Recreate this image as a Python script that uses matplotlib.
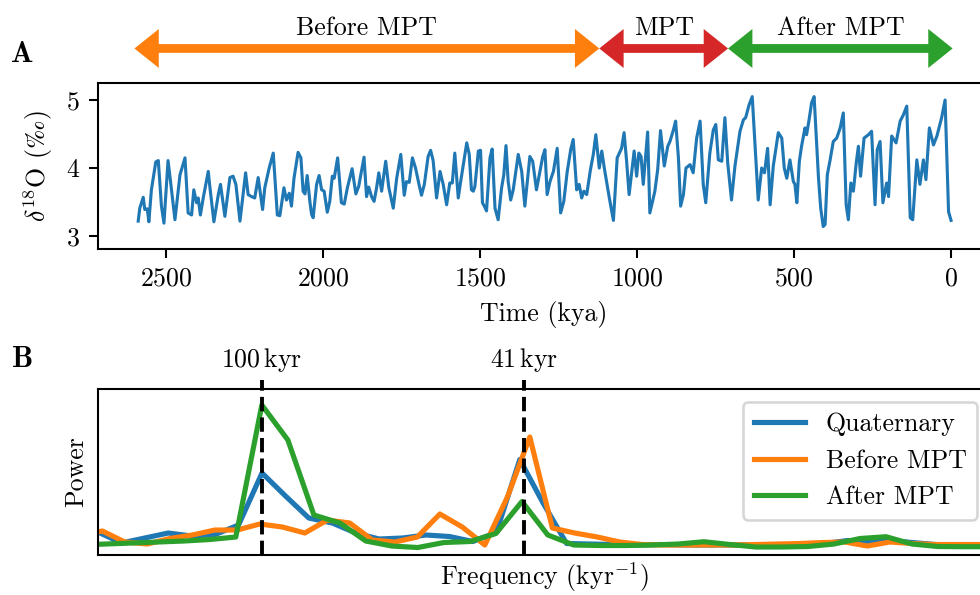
import matplotlib
matplotlib.use('Agg')
import matplotlib.pyplot as plt

plt.rcParams['font.family'] = ['cmr10', 'DejaVu Serif']
plt.rcParams['mathtext.fontset'] = 'cm'
plt.rcParams['axes.formatter.use_mathtext'] = True
plt.rcParams['font.size'] = 10

# benthic d18O stack, kya / permil
age = [2588, 2583, 2572, 2567, 2559, 2554, 2546, 2532, 2524, 2514, 2506, 2493, 2485, 2471, 2455, 2439,
       2429, 2418, 2411, 2402, 2397, 2390, 2381, 2365, 2360, 2347, 2333, 2326, 2312, 2296, 2286, 2277,
       2264, 2246, 2238, 2227, 2217, 2206, 2192, 2185, 2171, 2158, 2145, 2137, 2124, 2116, 2107, 2100, 2092,
       2079, 2070, 2063, 2057, 2050, 2041, 2036, 2031, 2020, 2012, 2004, 1996, 1986, 1978, 1970, 1964,
       1953, 1941, 1932, 1922, 1907, 1895, 1886, 1869, 1861, 1854, 1845, 1837, 1829, 1822, 1813, 1800,
       1790, 1776, 1765, 1752, 1741, 1734, 1725, 1715, 1705, 1694, 1686, 1677, 1665, 1657, 1649, 1638,
       1627, 1617, 1606, 1596, 1588, 1580, 1569, 1562,
       1542, 1534, 1527, 1521, 1516, 1505, 1498, 1492, 1486, 1479, 1468, 1461, 1452, 1442, 1431, 1424,
       1417, 1410, 1402, 1394, 1378, 1367, 1357, 1341, 1332, 1320, 1309, 1300, 1293, 1286, 1277, 1266,
       1254, 1243, 1233, 1222, 1211, 1203, 1192, 1184, 1176, 1169, 1160, 1148, 1139, 1131, 1120, 1112,
       1104, 1088, 1075, 1063, 1049, 1041, 1033,
       1025, 1017, 1009, 1001, 994, 987, 980, 966, 959, 943, 934, 925, 913, 902, 895, 884, 877, 868, 861,
       852, 844, 831, 821, 810, 799, 789, 781, 768, 757, 749, 741, 730, 720, 711, 699, 688, 672, 661, 654,
       643, 633, 614, 603, 594, 584, 576, 566, 550, 539, 531, 523, 513, 502,
       497, 491, 483, 476, 465, 460, 452, 444, 436, 422, 415, 407, 401, 394, 385, 375, 364, 353, 343, 334,
       327, 319, 311, 302, 295, 288, 277, 263, 253, 242, 235, 226, 217, 205, 199, 189, 175, 162, 152, 141,
       130, 122, 109, 99, 88, 80, 69, 56, 45, 30, 19, 8, 0]
d18o = [3.22, 3.41, 3.57, 3.39, 3.40, 3.21, 3.68, 4.09, 4.11, 3.44, 3.19, 4.11, 3.80, 3.24, 3.90, 4.15,
        3.34, 3.31, 3.68, 3.49, 3.56, 3.31, 3.56, 3.95, 3.73, 3.21, 3.61, 3.76, 3.29, 3.86, 3.88, 3.76,
        3.22, 3.93, 3.61, 3.58, 3.56, 3.86, 3.39, 3.71, 4.00, 4.22, 3.31, 3.30, 3.71, 3.53, 3.63, 3.44, 3.85,
        4.23, 4.15, 3.66, 3.62, 3.89, 3.49, 3.32, 3.27, 3.76, 3.89, 3.68, 3.66, 3.35, 3.51, 3.88, 3.85,
        4.15, 3.49, 3.47, 3.71, 3.99, 3.62, 3.73, 4.16, 3.58, 3.72, 3.58, 3.51, 3.71, 3.93, 3.66, 4.10,
        3.71, 3.41, 3.85, 4.20, 3.60, 3.80, 3.79, 4.15, 4.00, 3.76, 3.60, 3.76, 4.17, 4.26, 4.11, 3.56,
        3.95, 3.76, 3.46, 3.78, 3.78, 4.22, 3.56, 3.78,
        4.37, 4.20, 3.68, 3.66, 3.73, 4.25, 4.26, 3.49, 3.44, 3.37, 4.15, 4.28, 3.41, 3.24, 3.71, 3.90,
        4.33, 3.80, 3.53, 3.68, 4.20, 3.95, 3.44, 4.17, 4.10, 3.68, 3.95, 4.17, 4.27, 3.61, 3.80, 3.95,
        4.29, 3.34, 3.51, 3.95, 4.27, 4.42, 3.68, 3.76, 3.56, 3.66, 3.61, 3.98, 4.20, 4.49, 4.00, 4.25,
        4.00, 3.56, 3.23, 4.15, 4.29, 4.52, 4.10,
        3.61, 3.93, 4.25, 3.88, 4.22, 4.17, 3.76, 4.53, 3.34, 3.66, 3.98, 4.55, 4.03, 4.32, 4.39, 4.56,
        4.69, 4.15, 3.44, 3.61, 4.00, 4.05, 3.93, 4.44, 4.69, 3.76, 3.49, 4.22, 4.56, 4.64, 4.12, 4.10,
        4.74, 4.07, 3.53, 4.03, 4.54, 4.71, 4.74, 4.93, 5.05, 3.53, 4.00, 3.93, 4.29, 3.46, 4.03, 4.52,
        4.44, 4.00, 3.85, 4.12, 3.80,
        3.76, 3.49, 4.10, 4.32, 4.59, 4.49, 4.71, 4.96, 5.05, 3.85, 3.41, 3.14, 3.17, 3.90, 4.12, 4.39,
        4.44, 4.59, 4.81, 3.46, 3.24, 3.78, 3.66, 4.07, 4.32, 3.88, 4.44, 4.49, 4.54, 3.46, 4.27, 4.39,
        3.49, 3.78, 3.58, 4.47, 4.37, 4.69, 4.78, 4.91, 3.27, 3.24, 4.12, 3.76, 4.12, 3.83, 4.59, 4.34,
        4.47, 4.74, 5.00, 3.36, 3.23]

# periods, kya: (start, end) and labels
periods = [(2600, 1120), (1120, 710), (710, -5)]
period_names = ['Before MPT', 'MPT', 'After MPT']
period_colors = ['C1', 'C3', 'C2']

# power spectra (arbitrary units)
freq_q = [0.00100, 0.00229, 0.00357, 0.00486, 0.00615, 0.00744, 0.00872, 0.01001, 0.01130, 0.01258,
          0.01387, 0.01516, 0.01644, 0.01773, 0.01902, 0.02031, 0.02159, 0.02288, 0.02417, 0.02545,
          0.02674, 0.02803, 0.02931, 0.03060, 0.03189, 0.03318, 0.03446, 0.03575, 0.03704, 0.03832,
          0.03961, 0.04090, 0.04218, 0.04347, 0.04476, 0.04605, 0.04733, 0.04862, 0.04991]
power_q = [0.23, 0.12, 0.17, 0.22, 0.19, 0.205, 0.30, 0.82, 0.59, 0.37, 0.32, 0.22, 0.16, 0.17, 0.20,
           0.185, 0.135, 0.225, 0.955, 0.52, 0.115, 0.11, 0.105, 0.10, 0.105, 0.10, 0.10, 0.10, 0.10,
           0.10, 0.10, 0.115, 0.145, 0.135, 0.14, 0.12, 0.10, 0.10, 0.10]

freq_before = [0.0, 0.00124, 0.00247, 0.00371, 0.00494, 0.00618, 0.00742, 0.00865, 0.00989, 0.01113,
               0.01236, 0.01360, 0.01483, 0.01607, 0.01731, 0.01854, 0.01978, 0.02101, 0.02225, 0.02349,
               0.02472, 0.02596, 0.02719, 0.02843, 0.02967, 0.03090, 0.03214, 0.03338, 0.03461, 0.03585,
               0.03708, 0.03832, 0.03956, 0.04079, 0.04203, 0.04326, 0.04450, 0.04574, 0.04697, 0.04821,
               0.04944, 0.05068]
power_before = [0.20, 0.24, 0.13, 0.11, 0.165, 0.20, 0.25, 0.25, 0.31, 0.28, 0.22, 0.35, 0.32, 0.15,
                0.13, 0.18, 0.41, 0.28, 0.10, 0.58, 1.18, 0.27, 0.22, 0.18, 0.13, 0.105, 0.10, 0.10,
                0.10, 0.10, 0.105, 0.11, 0.115, 0.125, 0.13, 0.09, 0.13, 0.115, 0.105, 0.105, 0.105,
                0.105]

freq_after = [0.0, 0.00143, 0.00286, 0.00429, 0.00571, 0.00714, 0.00857, 0.01, 0.01143, 0.01286,
              0.01429, 0.01571, 0.01714, 0.01857, 0.02, 0.02143, 0.02286, 0.02429, 0.02571, 0.02714,
              0.02857, 0.03, 0.03143, 0.03286, 0.03429, 0.03571, 0.03714, 0.03857, 0.04, 0.04143,
              0.04286, 0.04429, 0.04571, 0.04714, 0.04857, 0.05]
power_after = [0.10, 0.11, 0.12, 0.13, 0.14, 0.155, 0.18, 1.50, 1.15, 0.40, 0.32, 0.14, 0.09, 0.075,
               0.125, 0.135, 0.215, 0.535, 0.20, 0.10, 0.095, 0.095, 0.10, 0.11, 0.133, 0.105, 0.08,
               0.08, 0.085, 0.11, 0.165, 0.183, 0.11, 0.085, 0.083, 0.083]

cycles = [100, 41]

fig = plt.figure(figsize=(980 / 186, 595 / 186), dpi=186)

# --- panel A
ax1 = fig.add_axes([0.1, 0.5815, 0.9102, 0.279])
ax1.plot(age, d18o, color='C0', lw=1.2)
ax1.set_xlim(2716, -124)
ax1.set_ylim(2.81, 5.25)
ax1.set_yticks([3, 4, 5])
ax1.set_xlabel('Time (kya)')
ax1.set_ylabel(r'$\delta^{18}$O ($\mathrm{‰}$)')

tr = ax1.get_xaxis_transform()
for (a0, a1), name, c in zip(periods, period_names, period_colors):
    ax1.annotate('', xy=(a1, 1.208), xytext=(a0, 1.208), xycoords=tr, textcoords=tr,
                 arrowprops=dict(arrowstyle='<|-|>,head_length=0.5,head_width=0.4',
                                 color=c, lw=3.4, shrinkA=0, shrinkB=0, mutation_scale=10,
                                 joinstyle='miter', capstyle='butt'),
                 annotation_clip=False)
    ax1.text((a0 + a1) / 2, 1.289, name, transform=tr, ha='center', va='baseline')

# --- panel B
ax2 = fig.add_axes([0.1, 0.0672, 0.9102, 0.279])
ax2.plot(freq_q, power_q, color='C0', lw=2, label='Quaternary')
ax2.plot(freq_before, power_before, color='C1', lw=2, label='Before MPT')
ax2.plot(freq_after, power_after, color='C2', lw=2, label='After MPT')
ax2.set_xlim(0.001, 0.05)
ax2.set_ylim(0, 1.66)
ax2.set_xticks([])
ax2.set_yticks([])
ax2.set_xlabel(r'Frequency (kyr$^{-1}$)', labelpad=2)
ax2.set_ylabel('Power')
tr2 = ax2.get_xaxis_transform()
for p in cycles:
    ax2.axvline(1 / p, ymin=0, ymax=1.054, color='k', ls='--', lw=1.5, clip_on=False)
    ax2.text(1 / p, 1.1325, str(p) + r'$\,$kyr', transform=tr2, ha='center', va='baseline')
ax2.legend(loc='upper right')

fig.text(10 / 980, 1 - 62 / 595, r'$\mathbf{A}$', ha='left', va='baseline', fontsize=11.5)
fig.text(11 / 980, 1 - 367 / 595, r'$\mathbf{B}$', ha='left', va='baseline', fontsize=11.5)

fig.savefig('out.png', dpi=186)
